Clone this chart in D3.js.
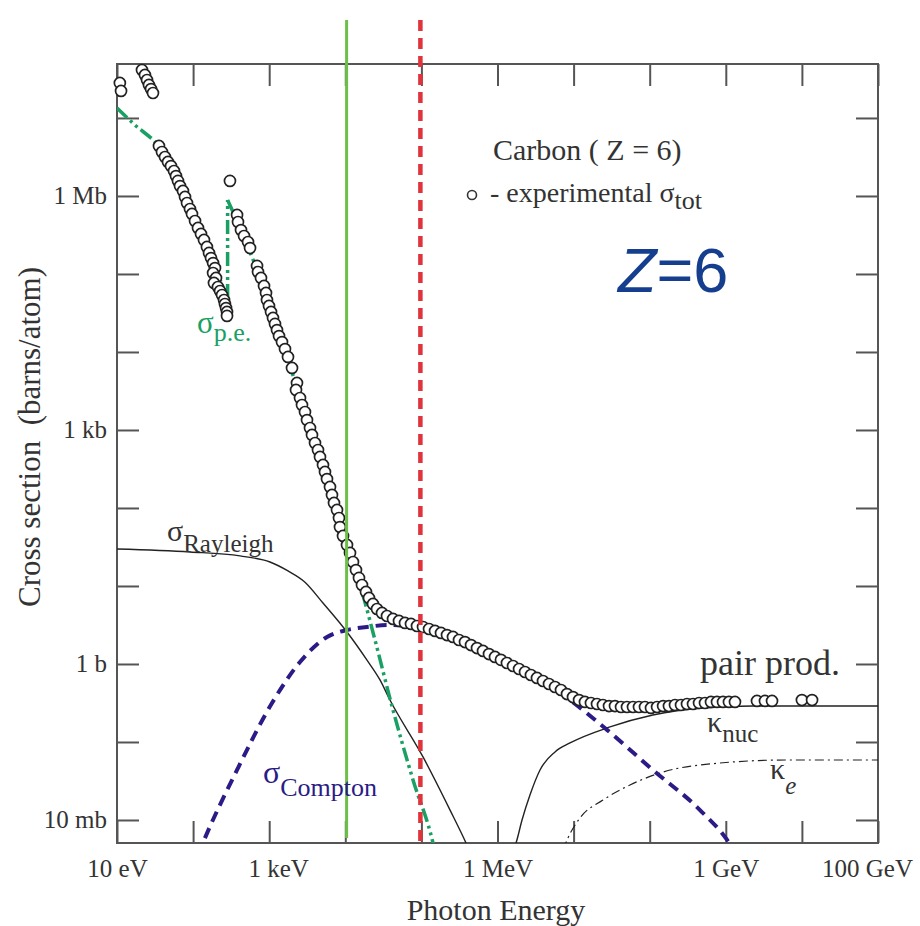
<!DOCTYPE html>
<head>
  <title>Photon cross sections in carbon</title>
  <meta charset="utf-8">
  <script src="https://d3js.org/d3.v7.min.js"></script>

  <style>
    body { margin: 0; background: #fff; }
    text { font-family: "Liberation Serif", "Times New Roman", serif; fill: #333; }
    .axis path { display: none; }
    .axis line { stroke: #555; stroke-width: 2; }
    .axis text { font-size: 25px; fill: #333; font-family: "Liberation Serif", serif; }
    .frame { fill: none; stroke: #555; stroke-width: 2; }
    .curve { fill: none; }
    .pt { fill: #fff; stroke: #222; stroke-width: 1.7; }
  </style>
</head>
<body>

  <svg width="920" height="926"></svg>

  <script>

  // ---- data (energy in eV, cross section in barns/atom) ----

  // experimental total cross section, open circles
  var measured = [
    [10.9, 2.81e7], [11.3, 2.22e7],
    [21.3, 4.12e7], [23.3, 3.56e7], [24.8, 3.07e7], [26.3, 2.65e7], [28.0, 2.35e7], [29.7, 2.09e7],
    [35.6, 4.38e6], [39.0, 3.66e6], [42.7, 3.16e6], [46.8, 2.73e6], [51.2, 2.42e6], [56.1, 2.09e6],
    [59.6, 1.80e6], [63.3, 1.56e6], [67.3, 1.34e6], [73.6, 1.16e6], [78.3, 9.71e5], [83.2, 8.13e5],
    [91.0, 6.81e5], [96.7, 5.88e5], [106, 4.78e5], [116, 3.89e5], [127, 3.26e5], [139, 2.73e5],
    [152, 2.22e5], [162, 1.86e5], [172, 1.60e5], [183, 1.38e5], [194, 1.19e5], [183, 1.03e5],
    [200, 8.89e4], [188, 7.67e4], [212, 6.81e4], [226, 6.05e4], [240, 5.38e4], [255, 4.64e4],
    [262, 4.12e4], [271, 3.66e4], [279, 3.26e4], [279, 2.90e4],
    [305, 1.56e6],
    [378, 5.71e5], [389, 4.64e5], [426, 3.66e5], [467, 3.07e5], [527, 2.57e5], [560, 2.15e5],
    [692, 1.27e5], [713, 1.06e5], [780, 8.89e4], [855, 7.02e4], [908, 5.71e4], [935, 4.64e4],
    [994, 3.89e4], [1057, 3.26e4], [1122, 2.73e4], [1192, 2.29e4], [1266, 1.91e4], [1346, 1.60e4],
    [1473, 1.34e4], [1613, 1.09e4], [1766, 8630], [1994, 6240], [2318, 4010], [2250, 3260],
    [2540, 2570], [2698, 2090], [2953, 1700], [3139, 1340], [3436, 1060], [3651, 863],
    [3999, 681], [4378, 554], [4651, 451], [5093, 356], [5409, 290], [5748, 235],
    [6294, 186], [6685, 147], [7104, 116], [7780, 94.3], [8260, 74.4], [8511, 57.0],
    [9330, 43.8], [10530, 33.6], [11530, 26.5], [12620, 20.3], [13820, 16.0], [15130, 12.7],
    [16570, 10.3], [18700, 8.38], [20480, 7.02], [23100, 5.88], [26100, 5.07], [30360, 4.51],
    [35300, 4.12], [42360, 3.78], [50770, 3.56], [60880, 3.36], [72980, 3.26], [87500, 3.07],
    [1.05e5, 2.98], [1.26e5, 2.81], [1.51e5, 2.65], [1.81e5, 2.50], [2.17e5, 2.35], [2.60e5, 2.22],
    [3.12e5, 2.03], [3.74e5, 1.91], [4.49e5, 1.75], [5.38e5, 1.60], [6.45e5, 1.47], [7.73e5, 1.34],
    [9.27e5, 1.23], [1.11e6, 1.13], [1.33e6, 1.03], [1.60e6, 0.942], [1.92e6, 0.863], [2.30e6, 0.789],
    [2.75e6, 0.722], [3.30e6, 0.662], [3.96e6, 0.605], [4.75e6, 0.554], [5.70e6, 0.507], [6.83e6, 0.464],
    [8.19e6, 0.412], [9.82e6, 0.377], [1.18e7, 0.345], [1.41e7, 0.326], [1.69e7, 0.316], [2.03e7, 0.307],
    [2.43e7, 0.298], [2.92e7, 0.289], [3.50e7, 0.289], [4.20e7, 0.281], [5.03e7, 0.281], [6.03e7, 0.281],
    [7.23e7, 0.281], [8.67e7, 0.281], [1.04e8, 0.273], [1.25e8, 0.281], [1.50e8, 0.289], [1.79e8, 0.289],
    [2.15e8, 0.298], [2.58e8, 0.298], [3.09e8, 0.307], [3.71e8, 0.307], [4.45e8, 0.316], [5.33e8, 0.316],
    [6.39e8, 0.326], [7.66e8, 0.326], [9.19e8, 0.326], [1.10e9, 0.326], [1.32e9, 0.326],
    [2.57e9, 0.336], [3.27e9, 0.336], [4.05e9, 0.336],
    [1.00e10, 0.345], [1.36e10, 0.345]
  ];

  // photoelectric, split at the carbon K edge
  var peBelowEdge = [[10, 1.34e7], [17.2, 8.13e6], [35.6, 4.25e6], [67.3, 1.38e6], [112, 4.92e5],
    [167, 2.03e5], [240, 7.23e4], [284, 4.92e4]];
  var peAboveEdge = [[284, 8.89e5], [413, 3.89e5], [594, 1.65e5], [1020, 4.25e4], [1990, 5540],
    [3436, 1060], [6294, 186], [9900, 33.6], [16570, 8.38], [24550, 2.03], [42360, 0.257],
    [77600, 0.0326], [1.42e5, 0.00507], [1.6e5, 0.003]];

  var rayleigh = [[10, 29.8], [91, 27.3], [413, 24.3], [1024, 20.3], [1766, 15.6], [2953, 11.2],
    [5090, 6.05], [10520, 2.57], [19280, 1.12], [28560, 0.624], [38650, 0.345], [1.05e5, 0.0643],
    [2.38e5, 0.0134], [3.86e5, 0.00507], [4.36e5, 0.00389]];

  var compton = [[116, 0.00356], [131, 0.00477], [378, 0.0438], [1089, 0.316], [2540, 1.06],
    [5750, 2.22], [10520, 2.73], [19280, 2.98], [35300, 3.16], [1.297e5, 2.81], [4.355e5, 1.86],
    [1.98e6, 0.889], [8.97e6, 0.345], [2.75e7, 0.143], [1.10e8, 0.0438], [4.58e8, 0.0134],
    [1.04e9, 0.00555], [1.32e9, 0.00389]];

  var kappaNuc = [[1.60e6, 0.00412], [1.75e6, 0.00507], [2.10e6, 0.01], [2.67e6, 0.0209],
    [3.62e6, 0.0438], [5.70e6, 0.0745], [8.97e6, 0.0971], [3.01e7, 0.156], [1.10e8, 0.222],
    [5.01e8, 0.273], [2.28e9, 0.289], [1e11, 0.289]];

  var kappaE = [[7.26e6, 0.00412], [8.43e6, 0.00587], [1.21e7, 0.0106], [2.43e7, 0.0180],
    [5.51e7, 0.0281], [1.37e8, 0.0401], [8.39e8, 0.0538], [6.37e9, 0.0588], [1e11, 0.0588]];

  // vertical marker lines (green solid, red dashed)
  var markerEnergies = [1.04e4, 9.7e4];

  // ticks
  var xTicks = [1e1, 1e2, 1e3, 1e4, 1e5, 1e6, 1e7, 1e8, 1e9, 1e10, 1e11];
  var xLabelValues = [1e1, 1e3, 1e6, 1e9, 1e11];
  var xLabelText = ['10 eV', '1 keV', '1 MeV', '1 GeV', '100 GeV'];
  var yTicks = [1e-2, 1e-1, 1, 1e1, 1e2, 1e3, 1e4, 1e5, 1e6, 1e7];
  var yLabelValues = [1e-2, 1, 1e3, 1e6];
  var yLabelText = ['10 mb', '1 b', '1 kb', '1 Mb'];

  // ---- layout ----
  var svg = d3.select('svg');
  var plot = {left: 117, right: 878, top: 64, bottom: 843};

  var x = d3.scaleLog().domain([10, 1e11]).range([plot.left, plot.right]);
  var y = d3.scaleLog().domain([5.07e-3, 4.92e7]).range([plot.bottom, plot.top]);

  svg.append('defs').append('clipPath').attr('id', 'clip')
    .append('rect')
    .attr('x', plot.left).attr('y', plot.top)
    .attr('width', plot.right - plot.left)
    .attr('height', plot.bottom - plot.top);

  var line = d3.line()
    .curve(d3.curveMonotoneX)
    .x(function(d) { return x(d[0]); })
    .y(function(d) { return y(d[1]); });

  var straight = d3.line()
    .x(function(d) { return x(d[0]); })
    .y(function(d) { return y(d[1]); });

  // axes (ticks point inward on all four sides)
  function labelFor(values, texts) {
    return function(d) {
      var i = values.indexOf(d);
      return i < 0 ? '' : texts[i];
    };
  }

  var bottomAxis = svg.append('g')
    .attr('class', 'axis')
    .attr('transform', 'translate(0,' + plot.bottom + ')')
    .call(d3.axisBottom(x).tickValues(xTicks).tickSize(-22).tickPadding(16)
      .tickFormat(labelFor(xLabelValues, xLabelText)));

  // nudge the outer labels like the original
  bottomAxis.selectAll('text')
    .attr('dx', function(d) { return d === 1e3 ? 9 : (d === 1e11 ? -11 : 0); });

  svg.append('g')
    .attr('class', 'axis')
    .attr('transform', 'translate(0,' + plot.top + ')')
    .call(d3.axisTop(x).tickValues(xTicks).tickSize(-22).tickFormat(''));

  svg.append('g')
    .attr('class', 'axis')
    .attr('transform', 'translate(' + plot.left + ',0)')
    .call(d3.axisLeft(y).tickValues(yTicks).tickSize(-22).tickPadding(10)
      .tickFormat(labelFor(yLabelValues, yLabelText)));

  svg.append('g')
    .attr('class', 'axis')
    .attr('transform', 'translate(' + plot.right + ',0)')
    .call(d3.axisRight(y).tickValues(yTicks).tickSize(-22).tickFormat(''));

  svg.append('rect')
    .attr('class', 'frame')
    .attr('x', plot.left).attr('y', plot.top)
    .attr('width', plot.right - plot.left)
    .attr('height', plot.bottom - plot.top);

  // curves
  var curves = svg.append('g').attr('clip-path', 'url(#clip)');

  curves.append('path').datum(rayleigh).attr('class', 'curve')
    .attr('stroke', '#222').attr('stroke-width', 1.4).attr('d', line);

  curves.append('path').datum(kappaNuc).attr('class', 'curve')
    .attr('stroke', '#222').attr('stroke-width', 1.4).attr('d', line);

  curves.append('path').datum(kappaE).attr('class', 'curve')
    .attr('stroke', '#222').attr('stroke-width', 1.2)
    .attr('stroke-dasharray', '9,4,2,4').attr('d', line);

  curves.append('path').datum(compton).attr('class', 'curve')
    .attr('stroke', '#2b1b86').attr('stroke-width', 4)
    .attr('stroke-dasharray', '11,7').attr('d', line);

  var peDash = '14,4,3,4,3,4';
  curves.append('path').datum(peBelowEdge).attr('class', 'curve')
    .attr('stroke', '#1aa063').attr('stroke-width', 3.5)
    .attr('stroke-dasharray', peDash).attr('d', line);
  curves.append('path').datum([peBelowEdge[peBelowEdge.length - 1], peAboveEdge[0]]).attr('class', 'curve')
    .attr('stroke', '#1aa063').attr('stroke-width', 3.5)
    .attr('stroke-dasharray', peDash).attr('d', straight);
  curves.append('path').datum(peAboveEdge).attr('class', 'curve')
    .attr('stroke', '#1aa063').attr('stroke-width', 3.5)
    .attr('stroke-dasharray', peDash).attr('d', line);

  // experimental points
  svg.append('g').selectAll('circle')
    .data(measured)
    .enter().append('circle')
    .attr('class', 'pt')
    .attr('cx', function(d) { return x(d[0]); })
    .attr('cy', function(d) { return y(d[1]); })
    .attr('r', 5.5);

  // marker lines
  svg.append('line')
    .attr('x1', x(markerEnergies[0])).attr('x2', x(markerEnergies[0]))
    .attr('y1', 20).attr('y2', 838)
    .attr('stroke', '#6cc04a').attr('stroke-width', 3);

  svg.append('line')
    .attr('x1', x(markerEnergies[1])).attr('x2', x(markerEnergies[1]))
    .attr('y1', 20).attr('y2', plot.bottom)
    .attr('stroke', '#e0343c').attr('stroke-width', 4.5)
    .attr('stroke-dasharray', '11,7');

  // axis titles
  svg.append('text')
    .attr('x', 496).attr('y', 920)
    .attr('text-anchor', 'middle')
    .attr('font-size', 30)
    .text('Photon Energy');

  svg.append('text')
    .attr('transform', 'translate(40,437) rotate(-90)')
    .attr('text-anchor', 'middle')
    .attr('font-size', 31)
    .style('white-space', 'pre')
    .text('Cross section  (barns/atom)');

  // annotations
  function subLabel(px, py, main, sub, color, mainSize, subSize, dy, italicSub) {
    var t = svg.append('text').attr('x', px).attr('y', py).style('fill', color);
    t.append('tspan').attr('font-size', mainSize).text(main);
    var s = t.append('tspan').attr('font-size', subSize).attr('dy', dy).text(sub);
    if (italicSub) s.attr('font-style', 'italic');
    return t;
  }

  subLabel(167, 541, 'σ', 'Rayleigh', '#333', 30, 25, 11);
  subLabel(197, 333, 'σ', 'p.e.', '#1aa063', 31, 26, 8);
  subLabel(263, 783, 'σ', 'Compton', '#2b1b86', 32, 26, 13);
  subLabel(707, 732, 'κ', 'nuc', '#333', 30, 25, 10);
  subLabel(770, 779, 'κ', 'e', '#333', 30, 25, 15, true);

  svg.append('text')
    .attr('x', 700).attr('y', 675)
    .attr('font-size', 36)
    .text('pair prod.');

  svg.append('text')
    .attr('x', 493).attr('y', 160)
    .attr('font-size', 30)
    .style('white-space', 'pre')
    .text('Carbon ( Z = 6)');

  svg.append('circle')
    .attr('cx', 472).attr('cy', 195).attr('r', 4.5)
    .attr('fill', 'none').attr('stroke', '#333').attr('stroke-width', 1.6);

  subLabel(490, 202, '- experimental σ', 'tot', '#333', 28, 26, 7);

  var zText = svg.append('text')
    .attr('x', 618).attr('y', 292)
    .attr('font-size', 63)
    .style('font-family', '"Liberation Sans", Arial, sans-serif')
    .style('fill', '#153f8e');
  zText.append('tspan').attr('font-style', 'italic').text('Z');
  zText.append('tspan').text('=6');

  </script>

</body>
